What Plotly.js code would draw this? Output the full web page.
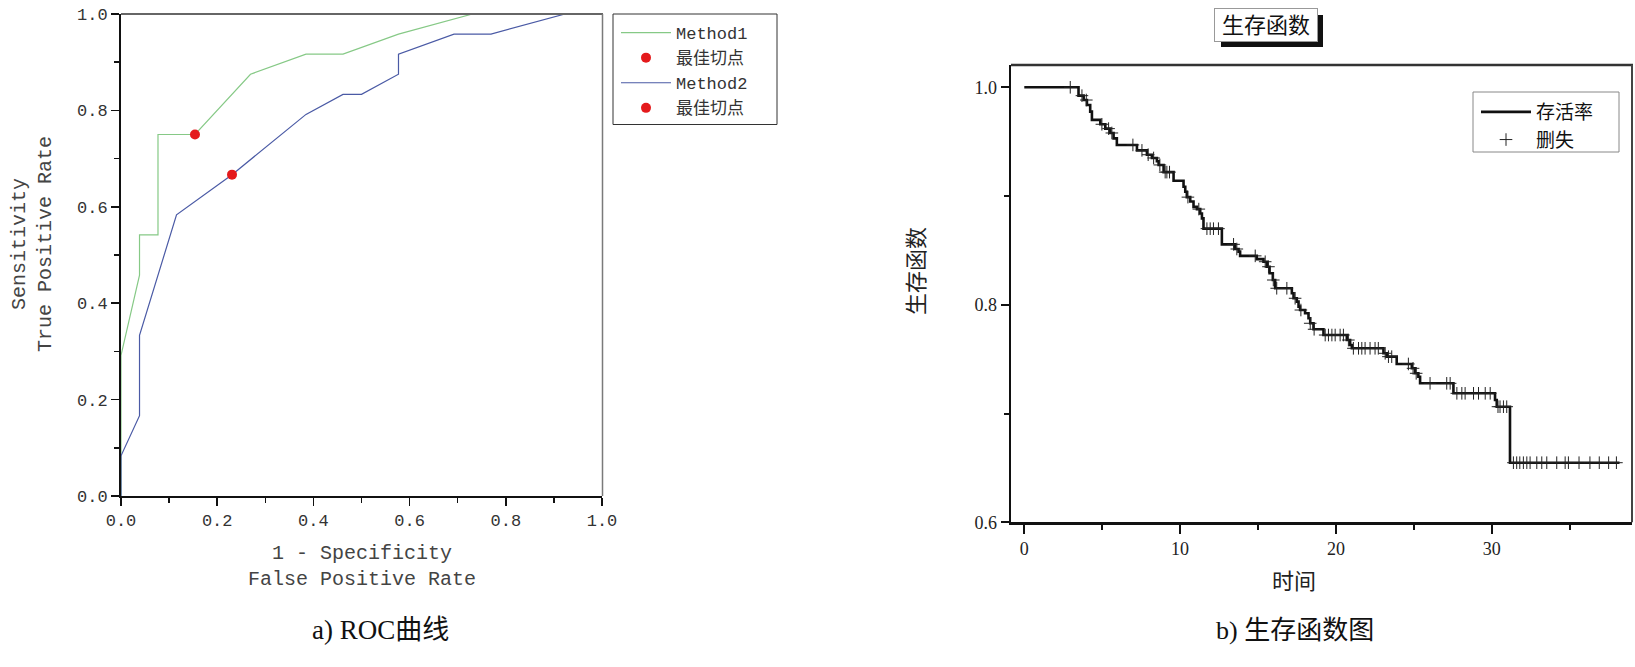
<!DOCTYPE html>
<html><head><meta charset="utf-8">
<script src="https://cdn.plot.ly/plotly-3.0.1.min.js"></script>
<style>html,body{margin:0;padding:0;background:#fff;}#chart{width:1635px;height:667px;}</style>
</head><body><div id="chart"></div>
<script>
// ---------- ROC data ----------
const m1FPR = [0, 0, 0.0385, 0.0385, 0.0769, 0.0769, 0.1538, 0.2692, 0.3846, 0.4615, 0.5769, 0.7308, 1.0];
const m1TPR = [0, 0.2917, 0.4583, 0.5417, 0.5417, 0.75, 0.75, 0.875, 0.9167, 0.9167, 0.9583, 1.0, 1.0];
const m2FPR = [0, 0, 0.0385, 0.0385, 0.1154, 0.2308, 0.3846, 0.4615, 0.5, 0.5769, 0.5769, 0.6923, 0.7692, 0.9231, 1.0];
const m2TPR = [0, 0.0833, 0.1667, 0.3333, 0.5833, 0.6667, 0.7917, 0.8333, 0.8333, 0.875, 0.9167, 0.9583, 0.9583, 1.0, 1.0];
const cut1 = [0.1538, 0.75];
const cut2 = [0.2308, 0.6667];
const rocNames = ["Method1", "最佳切点", "Method2", "最佳切点"];

// ---------- Survival data ----------
const kmTime = [0, 3.48, 3.81, 4.02, 4.23, 4.34, 4.88, 5.2, 5.52, 5.73,
  5.94, 7.23, 7.87, 8.19, 8.51, 8.62, 8.94, 9.58, 10.22, 10.33,
  10.43, 10.65, 10.86, 11.08, 11.29, 11.40, 11.50, 12.68, 13.53, 13.75,
  13.85, 14.92, 15.35, 15.57, 15.74, 15.95, 16.1, 17.17, 17.28, 17.49,
  17.6, 17.7, 18.02, 18.24, 18.35, 18.56, 19.2, 20.7, 20.91, 21.02,
  23.05, 23.26, 23.9, 24.87, 25.08, 25.29, 25.4, 27.54, 30.21, 30.32,
  31.17, 38.2];
const kmSurv = [1.0, 0.9923, 0.9883, 0.9837, 0.9776, 0.970, 0.966, 0.962, 0.958, 0.953,
  0.947, 0.942, 0.938, 0.935, 0.932, 0.9286, 0.922, 0.914, 0.9086, 0.904,
  0.899, 0.895, 0.890, 0.888, 0.884, 0.8795, 0.870, 0.8556, 0.8513, 0.8489,
  0.845, 0.842, 0.8396, 0.835, 0.829, 0.8228, 0.8152, 0.8106, 0.806, 0.8029,
  0.7983, 0.7952, 0.7922, 0.7876, 0.783, 0.7775, 0.7722, 0.7676, 0.763, 0.760,
  0.7554, 0.7523, 0.7456, 0.7416, 0.737, 0.7339, 0.7278, 0.7186, 0.7125, 0.7063,
  0.6548, 0.6548];
const censorTime = [2.95, 3.7, 3.98, 4.98, 5.41, 5.62, 6.97, 7.55, 7.95, 8.3,
  8.7, 9.04, 9.15, 9.32, 10.5, 11.2, 11.72, 11.93, 12.14, 12.46,
  13.43, 13.64, 14.82, 15.46, 15.67, 15.98, 16.2, 16.85, 17.38, 17.75,
  18.35, 18.6, 19.31, 19.52, 19.74, 19.95, 20.27, 20.48, 20.8, 21.12,
  21.45, 21.66, 21.87, 22.19, 22.51, 22.72, 23.16, 23.37, 23.58, 24.65,
  24.95, 25.15, 26.04, 27.11, 27.33, 27.76, 28.08, 28.29, 28.83, 29.15,
  29.58, 29.9, 30.4, 30.53, 30.75, 30.96, 31.39, 31.6, 31.8, 32.03,
  32.25, 32.46, 32.89, 33.21, 33.53, 34.17, 34.71, 34.92, 35.6, 36.3,
  36.9, 37.5, 38.0];
const kmNames = ["存活率", "删失"];

function survAt(t) {
  let s = kmSurv[0];
  for (let i = 0; i < kmTime.length; i++) { if (kmTime[i] <= t) s = kmSurv[i]; }
  return s;
}
const censorSurv = censorTime.map(survAt);

// ---------- layout helpers (pixel -> paper) ----------
const W = 1635, H = 667;
const px = v => v / W;
const py = v => 1 - v / H;

const mono = "Liberation Mono, Noto Sans CJK SC, monospace";
const serif = "Liberation Serif, Noto Sans CJK SC, serif";
const green = "#86c986", blue = "#4a5aa5", red = "#e41a1c";

const traces = [
  {x: m1FPR, y: m1TPR, mode: "lines", name: rocNames[0], line: {color: green, width: 1.2},
   xaxis: "x", yaxis: "y", legend: "legend", legendgroup: "a1"},
  {x: [cut1[0]], y: [cut1[1]], mode: "markers", name: rocNames[1], marker: {color: red, size: 10},
   xaxis: "x", yaxis: "y", legend: "legend", legendgroup: "a2"},
  {x: m2FPR, y: m2TPR, mode: "lines", name: rocNames[2], line: {color: blue, width: 1.2},
   xaxis: "x", yaxis: "y", legend: "legend", legendgroup: "a3"},
  {x: [cut2[0]], y: [cut2[1]], mode: "markers", name: rocNames[3], marker: {color: red, size: 10},
   xaxis: "x", yaxis: "y", legend: "legend", legendgroup: "a4"},
  {x: kmTime, y: kmSurv, mode: "lines", line: {shape: "hv", color: "#111", width: 2.6}, name: kmNames[0],
   xaxis: "x2", yaxis: "y2", legend: "legend2", legendgroup: "b1"},
  {x: censorTime, y: censorSurv, mode: "markers", name: kmNames[1],
   marker: {symbol: "cross-thin-open", size: 9, color: "#222", line: {width: 1, color: "#222"}},
   xaxis: "x2", yaxis: "y2", legend: "legend2", legendgroup: "b2"}
];

const tickFontL = {family: mono, size: 17, color: "#333"};
const tickFontR = {family: serif, size: 18, color: "#222"};

const layout = {
  width: W, height: H,
  margin: {l: 0, r: 0, t: 0, b: 0},
  paper_bgcolor: "#fff", plot_bgcolor: "#fff",
  showlegend: true,
  xaxis: {domain: [px(121), px(602)], range: [0, 1], anchor: "y", showgrid: false, zeroline: false,
    showline: true, linecolor: "#111", linewidth: 2, ticks: "outside", ticklen: 8, tickwidth: 1.5, tickcolor: "#111",
    dtick: 0.2, tick0: 0, tickformat: ".1f", tickfont: tickFontL,
    minor: {dtick: 0.1, ticks: "outside", ticklen: 5, tickwidth: 1.5, tickcolor: "#111"}},
  yaxis: {domain: [py(496), py(14)], range: [0, 1], anchor: "x", showgrid: false, zeroline: false,
    showline: true, linecolor: "#111", linewidth: 2, ticks: "outside", ticklen: 8, tickwidth: 1.5, tickcolor: "#111",
    dtick: 0.2, tick0: 0, tickformat: ".1f", tickfont: tickFontL,
    minor: {dtick: 0.1, ticks: "outside", ticklen: 5, tickwidth: 1.5, tickcolor: "#111"}},
  xaxis2: {domain: [px(1011), px(1632)], range: [-0.853, 39.0], anchor: "y2", showgrid: false, zeroline: false,
    showline: true, linecolor: "#111", linewidth: 2.5, ticks: "outside", ticklen: 9, tickwidth: 2, tickcolor: "#111",
    dtick: 10, tick0: 0, tickfont: tickFontR,
    minor: {dtick: 5, ticks: "outside", ticklen: 5, tickwidth: 2, tickcolor: "#111"}},
  yaxis2: {domain: [py(522.3), py(65)], range: [0.6, 1.0205], anchor: "x2", showgrid: false, zeroline: false,
    showline: true, linecolor: "#111", linewidth: 2.5, ticks: "outside", ticklen: 8, tickwidth: 2, tickcolor: "#111",
    dtick: 0.2, tick0: 0.6, tickformat: ".1f", tickfont: tickFontR,
    minor: {dtick: 0.1, ticks: "outside", ticklen: 5, tickwidth: 2, tickcolor: "#111"}},
  legend: {x: px(616), y: py(15), xanchor: "left", yanchor: "top", bgcolor: "rgba(0,0,0,0)", borderwidth: 0,
    font: {family: mono, size: 17, color: "#333"}, tracegroupgap: 3, itemwidth: 50, traceorder: "normal"},
  legend2: {x: px(1476), y: py(93), xanchor: "left", yanchor: "top", bgcolor: "rgba(0,0,0,0)", borderwidth: 0,
    font: {family: serif, size: 19, color: "#111"}, tracegroupgap: 6, itemwidth: 50, traceorder: "normal"},
  shapes: [
    {type: "line", xref: "paper", yref: "paper", x0: px(121), x1: px(603), y0: py(14), y1: py(14), line: {color: "#666", width: 2}},
    {type: "line", xref: "paper", yref: "paper", x0: px(602.5), x1: px(602.5), y0: py(14), y1: py(496), line: {color: "#7a7a7a", width: 1.5}},
    {type: "rect", xref: "paper", yref: "paper", x0: px(613), x1: px(777), y0: py(14), y1: py(124.5), line: {color: "#333", width: 1}},
    {type: "line", xref: "paper", yref: "paper", x0: px(1011), x1: px(1633), y0: py(65), y1: py(65), line: {color: "#333", width: 2.5}},
    {type: "line", xref: "paper", yref: "paper", x0: px(1632), x1: px(1632), y0: py(65), y1: py(522.3), line: {color: "#444", width: 2}},
    {type: "rect", xref: "paper", yref: "paper", x0: px(1473), x1: px(1619), y0: py(92), y1: py(152), line: {color: "#888", width: 1}},
    {type: "rect", xref: "paper", yref: "paper", x0: px(1221), x1: px(1323), y0: py(15), y1: py(47), line: {width: 0}, fillcolor: "#111"}
  ],
  annotations: [
    {text: "Sensitivity<br>True Positive Rate", xref: "paper", yref: "paper", x: px(32), y: py(244), textangle: -90,
     showarrow: false, xanchor: "center", yanchor: "middle", font: {family: mono, size: 20, color: "#444"}},
    {text: "1 - Specificity<br>False Positive Rate", xref: "paper", yref: "paper", x: px(361.5), y: py(566),
     showarrow: false, xanchor: "center", yanchor: "middle", font: {family: mono, size: 20, color: "#444"}},
    {text: "a) ROC曲线", xref: "paper", yref: "paper", x: px(380), y: py(630), showarrow: false,
     xanchor: "center", yanchor: "middle", font: {family: serif, size: 27, color: "#111"}},
    {text: "生存函数", xref: "paper", yref: "paper", x: px(1266), y: py(25), showarrow: false,
     xanchor: "center", yanchor: "middle", width: 100, height: 30, bgcolor: "#fff", bordercolor: "#999", borderwidth: 1,
     font: {family: serif, size: 22, color: "#111"}},
    {text: "生存函数", xref: "paper", yref: "paper", x: px(916), y: py(271), textangle: -90, showarrow: false,
     xanchor: "center", yanchor: "middle", font: {family: serif, size: 22, color: "#222"}},
    {text: "时间", xref: "paper", yref: "paper", x: px(1294), y: py(581), showarrow: false,
     xanchor: "center", yanchor: "middle", font: {family: serif, size: 22, color: "#222"}},
    {text: "b) 生存函数图", xref: "paper", yref: "paper", x: px(1295), y: py(630), showarrow: false,
     xanchor: "center", yanchor: "middle", font: {family: serif, size: 26, color: "#111"}}
  ]
};

Plotly.newPlot("chart", traces, layout, {displayModeBar: false, staticPlot: true});
</script>
</body></html>
